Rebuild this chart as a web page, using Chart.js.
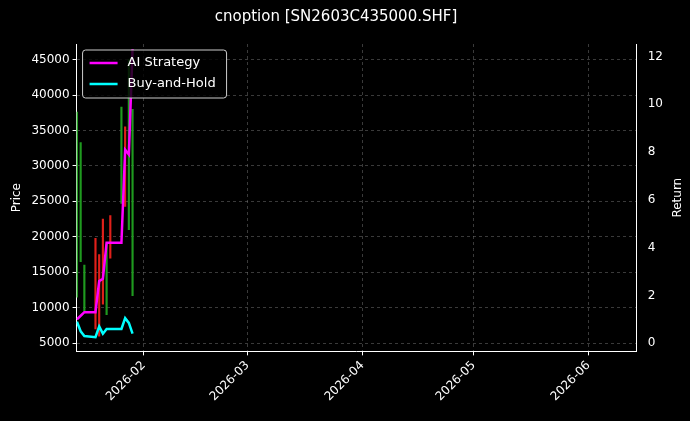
<!DOCTYPE html><html><head><style>html,body{margin:0;background:#000}</style>
<script src="https://cdn.jsdelivr.net/npm/chart.js@4"></script></head><body>
<div style="width:690px;height:421px"><canvas id="c"></canvas></div>
<script>
const days=[14,15,16,19,20,21,22,23,26,27,28,29];
const lows=[11500,16500,9500,7000,6000,10500,9000,17000,24700,24300,21000,11700];
const highs=[37600,33300,16000,19800,17500,22500,19000,23000,38300,35500,45000,38000];
const up=[1,1,1,0,0,0,1,0,1,0,1,1];
const aiRet=[1.0,1.15,1.3,1.3,2.6,2.7,4.2,4.2,4.2,8.1,7.9,12.3];
const bhRet=[0.9,0.5,0.3,0.25,0.7,0.4,0.6,0.6,0.6,1.05,0.85,0.4];
const monthTicks=[32,60,91,121,152];
const monthLabels=['2026-02','2026-03','2026-04','2026-05','2026-06'];
const grid={color:'rgba(128,128,128,0.45)',tickColor:'#fff',tickLength:4};
const bord={color:'#fff',dash:[3,3]};
const legendPlugin={id:'lg',afterDraw(ch){const c=ch.ctx,a=ch.chartArea;const x=a.left+6,y=a.top+6;
c.save();c.fillStyle='rgba(0,0,0,0.8)';c.strokeStyle='#ccc';c.lineWidth=1;c.beginPath();c.roundRect(x,y,144,48,3);c.fill();c.stroke();
[['AI Strategy','#ff00ff'],['Buy-and-Hold','#00ffff']].forEach((e,i)=>{const yy=y+13+i*21;c.strokeStyle=e[1];c.lineWidth=2.5;c.beginPath();c.moveTo(x+7,yy);c.lineTo(x+35,yy);c.stroke();c.fillStyle='#fff';c.font='13px "DejaVu Sans"';c.textBaseline='middle';c.fillText(e[0],x+45,yy);});
c.translate(678,(a.top+a.bottom)/2);c.rotate(-Math.PI/2);c.textAlign='center';c.fillStyle='#fff';c.font='12px "DejaVu Sans"';c.fillText('Return',0,0);c.restore();}};
new Chart(document.getElementById('c'),{data:{datasets:[
{type:'bar',data:days.map((d,i)=>({x:d,y:[lows[i],highs[i]]})),backgroundColor:up.map(u=>u?'#1f9a1f':'#e0201a'),barThickness:1.5,yAxisID:'y',order:3},
{type:'line',data:days.map((d,i)=>({x:d,y:aiRet[i]})),borderColor:'#ff00ff',borderWidth:2.5,pointRadius:0,yAxisID:'y1',order:1},
{type:'line',data:days.map((d,i)=>({x:d,y:bhRet[i]})),borderColor:'#00ffff',borderWidth:2.5,pointRadius:0,yAxisID:'y1',order:2}]},
options:{animation:false,responsive:true,maintainAspectRatio:false,layout:{padding:{top:8,right:24,left:6,bottom:14}},
plugins:{legend:{display:false},tooltip:{enabled:false},title:{display:true,text:'cnoption [SN2603C435000.SHF]',color:'#fff',font:{size:15,family:'DejaVu Sans',weight:'normal'},padding:{top:0,bottom:18}}},
scales:{x:{type:'linear',offset:false,min:13.9,max:165,grid:{...grid,offset:false},border:bord,afterBuildTicks(s){s.ticks=monthTicks.map(v=>({value:v}));},ticks:{color:'#fff',maxRotation:45,minRotation:45,font:{size:12,family:'DejaVu Sans'},callback:(v)=>monthLabels[monthTicks.indexOf(v)]}},
y:{position:'left',min:3840,max:47200,grid:{...grid},border:bord,afterBuildTicks(s){s.ticks=[5000,10000,15000,20000,25000,30000,35000,40000,45000].map(v=>({value:v}));},ticks:{color:'#fff',font:{size:12,family:'DejaVu Sans'},callback:v=>String(v)},title:{display:true,text:'Price',color:'#fff',font:{size:12,family:'DejaVu Sans'}}},
y1:{position:'right',min:-0.34,max:12.52,grid:{display:false},border:{color:'#fff'},afterBuildTicks(s){s.ticks=[0,2,4,6,8,10,12].map(v=>({value:v}));},ticks:{color:'#fff',font:{size:12,family:'DejaVu Sans'}}}}},
plugins:[legendPlugin]});
</script></body></html>
